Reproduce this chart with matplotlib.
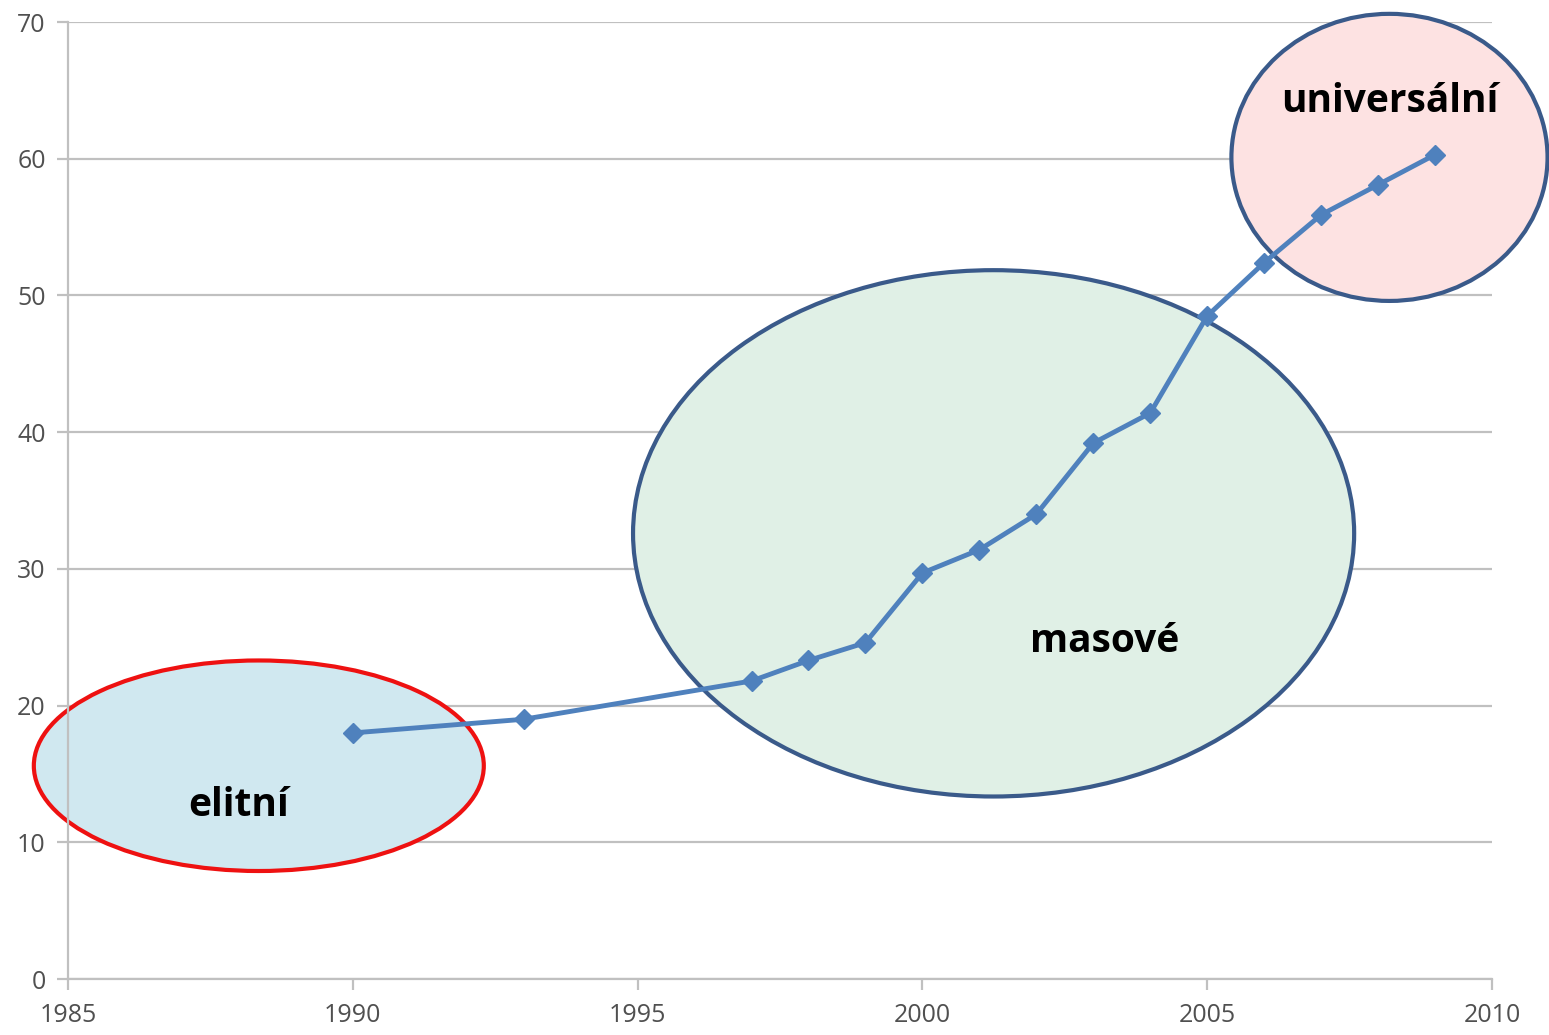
import matplotlib
matplotlib.use("Agg")
import matplotlib.pyplot as plt
from matplotlib.patches import Ellipse

# Values
years = [1990, 1993, 1997, 1998, 1999, 2000, 2001, 2002, 2003, 2004,
         2005, 2006, 2007, 2008, 2009]
values = [18.0, 19.0, 21.8, 23.3, 24.6, 29.7, 31.4, 34.0, 39.2, 41.4,
          48.5, 52.4, 55.9, 58.1, 60.3]
x_ticks = [1985, 1990, 1995, 2000, 2005, 2010]
y_ticks = [0, 10, 20, 30, 40, 50, 60, 70]

# (label, center x, center y, width, height, fill, edge)
zones = [
    ("elitní", 1988.35, 15.6, 7.9, 15.4, "#d0e8f0", "#ee1111"),
    ("masové", 2001.25, 32.6, 12.66, 38.5, "#e0f0e6", "#3a5a8a"),
    ("universální", 2008.2, 60.1, 5.55, 21.0, "#fde2e2", "#3a5a8a"),
]
label_pos = [(1988.0, 12.7), (2003.2, 24.7), (2008.2, 64.2)]

plt.rcParams['font.family'] = ['Open Sans', 'DejaVu Sans']

fig = plt.figure(figsize=(15.49, 10.35), dpi=100)
ax = fig.add_axes([0.0439, 0.0541, 0.9193, 0.9246])

grid_c = "#c0c0c0"
for y in y_ticks:
    ax.axhline(y, color=grid_c, lw=1.6, zorder=0)

for (name, cx, cy, w, h, fc, ec), (tx, ty) in zip(zones, label_pos):
    ax.add_patch(Ellipse((cx, cy), w, h, facecolor=fc, edgecolor=ec,
                         lw=3, zorder=1, clip_on=False))
    ax.text(tx, ty, name, ha="center", va="center", fontsize=28,
            fontweight="bold", color="black", zorder=4)

ax.plot(years, values, color="#4f81bd", lw=3.5, marker="D", markersize=10,
        zorder=3)

ax.set_xlim(1985, 2010)
ax.set_ylim(0, 70)
ax.set_xticks(x_ticks)
ax.set_yticks(y_ticks)
for s in ["top", "right"]:
    ax.spines[s].set_visible(False)
for s in ["left", "bottom"]:
    ax.spines[s].set_color(grid_c)
    ax.spines[s].set_linewidth(1.6)
ax.tick_params(axis="both", colors=grid_c, length=8, width=1.6,
               labelsize=18, labelcolor="#505050")
ax.tick_params(axis="y", pad=8)
ax.tick_params(axis="x", pad=9)

fig.savefig("out.png", dpi=100)
